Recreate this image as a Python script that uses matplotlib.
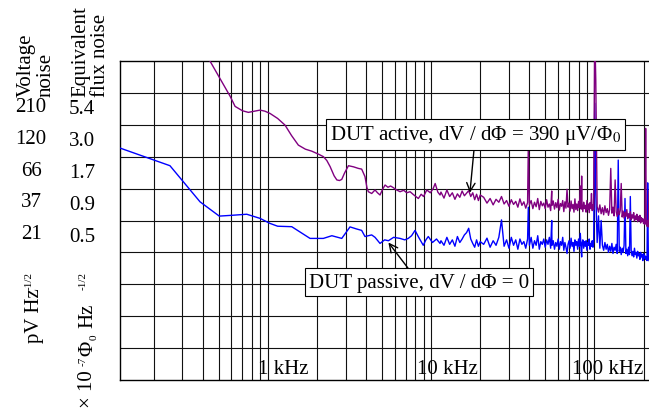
import matplotlib
matplotlib.use('Agg')
import matplotlib.pyplot as plt
import matplotlib.transforms as mtransforms
from matplotlib.ticker import FixedLocator, NullFormatter, LogLocator, FixedFormatter

plt.rcParams['font.family'] = ['Liberation Serif', 'DejaVu Serif']
plt.rcParams['mathtext.fontset'] = 'stix'

# ---------------- data (frequency in kHz, flux noise in 1e-7 Phi0/sqrt(Hz)) ----------------
noise_grid_khz = [11.5, 12, 12.5, 13, 13.5, 14, 14.5, 15, 15.5, 16, 16.5, 17, 17.5, 18, 18.5, 19, 19.5, 20,
                  21, 22, 23, 24, 25, 26, 27, 28, 29, 30,
                  31, 32, 33, 34, 35, 36, 37, 38, 39, 39.4,
                  40, 41, 42, 43, 44, 45, 46, 47, 48, 49,
                  50, 51, 52, 53, 54, 54.8, 55, 56, 57, 58,
                  59, 60, 61, 62, 63, 64, 65, 66, 67, 68,
                  69, 70, 71, 72, 73, 74, 75, 76, 77, 78,
                  79, 80, 81, 82, 83, 83.6, 84, 85, 86, 87,
                  88, 89, 90, 91, 92, 93, 94, 95, 96, 97,
                  98, 99,
                  100.5, 102,
                  104, 106, 108, 110, 112, 114, 116, 118, 120, 122,
                  124, 126, 128, 130, 132, 134, 136, 138, 140, 142,
                  144, 146, 148, 150, 152, 154, 156, 158, 160, 162,
                  164, 166, 168, 170, 172, 174, 176, 178, 180, 182,
                  184, 186, 188, 190, 192, 194, 196, 198, 200, 202,
                  204, 206, 208, 210, 212, 214, 216]

passive_smooth_khz = [0.12, 0.252, 0.385, 0.505, 0.60, 0.744, 0.897, 1.033, 1.15, 1.403, 1.816, 2.19, 2.47,
                      2.84, 3.19, 3.50, 3.76, 3.94, 4.33, 4.54, 4.87, 5.2, 5.48, 5.9, 6.46, 6.9, 7.25, 7.6,
                      7.98, 8.4, 8.96, 9.3, 9.62, 10.2, 10.8, 11.35]
passive_smooth_flux = [3.48, 2.47, 1.27, 0.976, 0.99, 1.01, 0.936, 0.853, 0.81, 0.803, 0.647, 0.647, 0.68,
                       0.647, 0.80, 0.77, 0.75, 0.67, 0.69, 0.66, 0.59, 0.63, 0.62, 0.66, 0.647, 0.63, 0.647, 0.68,
                       0.75, 0.66, 0.57, 0.63, 0.67, 0.60, 0.64, 0.59]
passive_noise_flux = [0.62, 0.57, 0.66, 0.58, 0.63, 0.56, 0.67, 0.60, 0.64, 0.69, 0.72, 0.78, 0.64, 0.59, 0.55, 0.63, 0.56, 0.61,
                      0.58, 0.65, 0.55, 0.62, 0.57, 0.66, 0.91, 0.56, 0.63, 0.54,
                      0.66, 0.57, 0.63, 0.53, 0.64, 0.58, 0.61, 0.54, 0.64, 1.15,
                      0.57, 0.66, 0.54, 0.62, 0.57, 0.68, 0.53, 0.61, 0.58, 0.64,
                      0.55, 0.63, 0.58, 0.66, 0.54, 0.90, 0.57, 0.62, 0.53, 0.60,
                      0.56, 0.64, 0.53, 0.61, 0.57, 0.66, 0.52, 0.60, 0.55, 0.49,
                      0.58, 0.62, 0.54, 0.65, 0.56, 0.60, 0.51, 0.63, 0.57, 0.61,
                      0.53, 0.64, 0.56, 0.71, 0.52, 0.46, 0.59, 0.63, 0.54, 0.61,
                      0.56, 0.62, 0.52, 0.60, 0.57, 0.64, 0.53, 0.59, 0.56, 0.62,
                      0.55, 0.60,
                      7.8, 1.5,
                      0.60, 0.98, 0.54, 0.90, 0.57, 0.52, 0.60, 0.53, 0.58, 0.50,
                      0.56, 0.51, 0.59, 0.49, 0.55, 0.52, 0.58, 0.49, 2.74, 0.51,
                      0.55, 0.48, 0.54, 0.50, 0.57, 1.35, 0.49, 0.53, 0.47, 0.55,
                      0.48, 1.40, 0.52, 0.47, 0.51, 0.46, 0.54, 0.48, 0.50, 0.45,
                      0.51, 0.47, 0.49, 0.44, 0.50, 0.46, 0.48, 0.43, 0.49, 0.45,
                      0.47, 0.44, 0.46, 0.43, 1.80, 0.44, 0.43]

active_smooth_khz = [0.42, 0.443, 0.51, 0.588, 0.631, 0.70, 0.761, 0.83, 0.897, 0.96, 1.033, 1.15, 1.276, 1.40,
                     1.54, 1.70, 1.86, 2.05, 2.19, 2.30, 2.41, 2.55, 2.65, 2.75, 2.84, 2.95, 3.12, 3.35, 3.59,
                     3.76, 3.94, 4.05, 4.13, 4.33, 4.54, 4.70, 4.87, 5.05, 5.23, 5.45, 5.65, 5.87, 6.1, 6.46,
                     6.8, 7.1, 7.44, 7.8, 8.36, 8.7, 9.0, 9.41, 9.9, 10.3, 10.6, 11.0, 11.35]
active_smooth_flux = [19.5, 17.0, 12.3, 8.9, 7.37, 6.8, 6.60, 6.75, 6.88, 6.75, 6.47, 5.9, 5.22, 4.3,
                      3.61, 3.35, 3.23, 3.05, 2.92, 2.72, 2.43, 2.05, 1.90, 1.88, 1.92, 2.15, 2.47, 2.42, 2.35,
                      2.32, 2.02, 1.65, 1.53, 1.48, 1.58, 1.50, 1.44, 1.60, 1.73, 1.66, 1.70, 1.65, 1.59, 1.53,
                      1.57, 1.50, 1.53, 1.45, 1.35, 1.46, 1.40, 1.58, 1.50, 1.62, 1.78, 1.52, 1.44]
active_noise_flux = [1.52, 1.36, 1.58, 1.40, 1.50, 1.33, 1.47, 1.38, 1.55, 1.42, 1.49, 1.56, 1.40, 1.50, 1.32, 1.46, 1.30, 1.44,
                     1.38, 1.24, 1.35, 1.20, 1.33, 1.26, 1.40, 1.22, 1.30, 1.17,
                     1.32, 1.21, 1.28, 1.15, 1.34, 1.19, 1.27, 1.13, 1.25, 3.53,
                     1.20, 1.30, 1.12, 1.26, 1.16, 1.35, 1.10, 1.28, 1.18, 1.24,
                     1.12, 1.32, 1.15, 1.22, 1.08, 1.55, 1.19, 1.29, 1.11, 1.25,
                     1.14, 1.33, 1.09, 1.23, 1.17, 1.30, 1.06, 1.27, 1.13, 1.60,
                     1.15, 1.24, 1.07, 1.29, 1.12, 1.21, 1.05, 1.34, 1.10, 1.22,
                     1.08, 1.28, 1.14, 1.70, 1.11, 2.04, 1.20, 1.06, 1.26, 1.12,
                     1.19, 1.05, 1.30, 1.10, 1.22, 1.04, 1.25, 1.13, 1.48, 1.08,
                     1.20, 1.10,
                     30.0, 12.0,
                     1.16, 1.05, 1.20, 1.02, 1.14, 1.00, 1.18, 1.04, 1.12, 0.99,
                     1.10, 2.35, 1.03, 1.15, 0.98, 1.90, 1.06, 0.97, 1.12, 1.00,
                     1.08, 1.78, 0.96, 1.07, 0.94, 1.05, 0.97, 1.10, 0.93, 1.02,
                     0.95, 1.06, 0.91, 1.00, 0.94, 1.04, 0.89, 0.98, 0.92, 1.01,
                     0.88, 0.97, 0.90, 0.99, 0.86, 0.95, 0.89, 0.93, 0.85, 0.92,
                     0.84, 4.91, 0.87, 0.81, 0.90, 0.80, 1.55]

flux_labels = ['5.4', '3.0', '1.7', '0.9', '0.5']
volt_labels = ['210', '120', '66', '37', '21']
freq_labels = ['1 kHz', '10 kHz', '100 kHz']
freq_label_khz = [0.872, 8.17, 72.8]

active_label = 'DUT active, dV / dΦ = 390 μV/Φ$_0$'
active_text_at = (18.7, 4.40)
active_tip_at = (17.3, 1.50)
passive_label = 'DUT passive, dV / dΦ = 0'
passive_text_at = (8.41, 0.289)
passive_tip_at = (5.48, 0.60)

grid_base = 0.5
grid_ratio = 1.8

# ---------------- figure ----------------
W, H = 649, 410
fig = plt.figure(figsize=(W / 100, H / 100), dpi=100)
ax = fig.add_axes([120 / W, 1 - 381 / H, 529 / W, 319 / H])

passive_f = passive_smooth_khz + noise_grid_khz
passive_v = passive_smooth_flux + passive_noise_flux
active_f = active_smooth_khz + noise_grid_khz
active_v = active_smooth_flux + active_noise_flux

ax.plot(passive_f, passive_v, color='#0000ff', lw=1.0, zorder=3)
ax.plot(active_f, active_v, color='#800080', lw=1.0, zorder=3)

ax.set_xscale('log')
ax.set_yscale('log')
ax.set_xlim(0.1246, 216)
ax.set_ylim(grid_base * grid_ratio ** -4, grid_base * grid_ratio ** 6)

# x grid: log decades with 2..9 subdivisions
ax.xaxis.set_major_locator(LogLocator(base=10, numticks=10))
ax.xaxis.set_minor_locator(LogLocator(base=10, subs=range(2, 10), numticks=20))
ax.xaxis.set_major_formatter(NullFormatter())
ax.xaxis.set_minor_formatter(NullFormatter())
ax.tick_params(axis='x', which='both', length=0)

# y grid: equal steps of factor 1.8
ax.yaxis.set_minor_locator(FixedLocator([grid_base * grid_ratio ** k for k in range(-3, 6)]))
ax.yaxis.set_minor_formatter(NullFormatter())
label_pos = [grid_base * grid_ratio ** (k + 0.58) for k in (4, 3, 2, 1, 0)]
ax.yaxis.set_major_locator(FixedLocator(label_pos))
ax.yaxis.set_major_formatter(FixedFormatter(flux_labels))
ax.tick_params(axis='y', which='major', length=0, pad=18, labelsize=15)
ax.tick_params(axis='y', which='minor', length=0)

ax.grid(True, axis='x', which='both', color='#111111', lw=0.8)
ax.grid(True, axis='y', which='minor', color='#111111', lw=0.8)
ax.grid(False, axis='y', which='major')
ax.set_axisbelow(True)

for s in ('top', 'left', 'bottom'):
    ax.spines[s].set_color('black')
    ax.spines[s].set_linewidth(1.0)
ax.spines['right'].set_visible(False)

# voltage column
trans = mtransforms.blended_transform_factory(fig.transFigure, ax.transData)
for lab, y in zip(volt_labels, label_pos):
    ax.text(31 / W, y, lab, transform=trans, ha='center', va='center', fontsize=15)

# frequency labels inside the plot
for lab, f in zip(freq_labels, freq_label_khz):
    ax.text(f, 0.054, lab, ha='left', va='baseline', fontsize=15, zorder=4)

# annotations
box = dict(boxstyle='square,pad=0.2', fc='white', ec='black', lw=0.8)
arrow = dict(arrowstyle='->', color='black', lw=1.0, shrinkA=0, shrinkB=0)
ax.annotate(active_label, xy=active_tip_at, xytext=active_text_at, ha='center', va='center',
            fontsize=15, bbox=box, arrowprops=arrow, zorder=5)
ax.annotate(passive_label, xy=passive_tip_at, xytext=passive_text_at, ha='center', va='center',
            fontsize=15, bbox=box, arrowprops=arrow, zorder=5)

# axis titles (rotated)
fig.text(36 / W, 1 - 97 / H, 'Voltage\nnoise', rotation=90, ha='center', va='bottom',
         multialignment='left', linespacing=1.05, fontsize=15)
fig.text(91 / W, 1 - 97 / H, 'Equivalent\nflux noise', rotation=90, ha='center', va='bottom',
         multialignment='left', linespacing=1.05, fontsize=15)

# unit labels, built from pieces: (text, bottom pixel, x centre pixel, size)
unit_pieces = [('pV Hz', 343, 34, 15), ('-1/2', 290, 29, 8),
               ('× 10', 408, 88, 15), ('-7', 366, 83, 8), ('Φ', 356, 88, 15), ('0', 340, 94, 8),
               ('Hz', 328, 88, 15), ('-1/2', 290, 83, 8)]
for txt, yb, xc, sz in unit_pieces:
    fig.text(xc / W, 1 - yb / H, txt, rotation=90, ha='center', va='bottom', fontsize=sz)

fig.savefig('out.png', dpi=100)
